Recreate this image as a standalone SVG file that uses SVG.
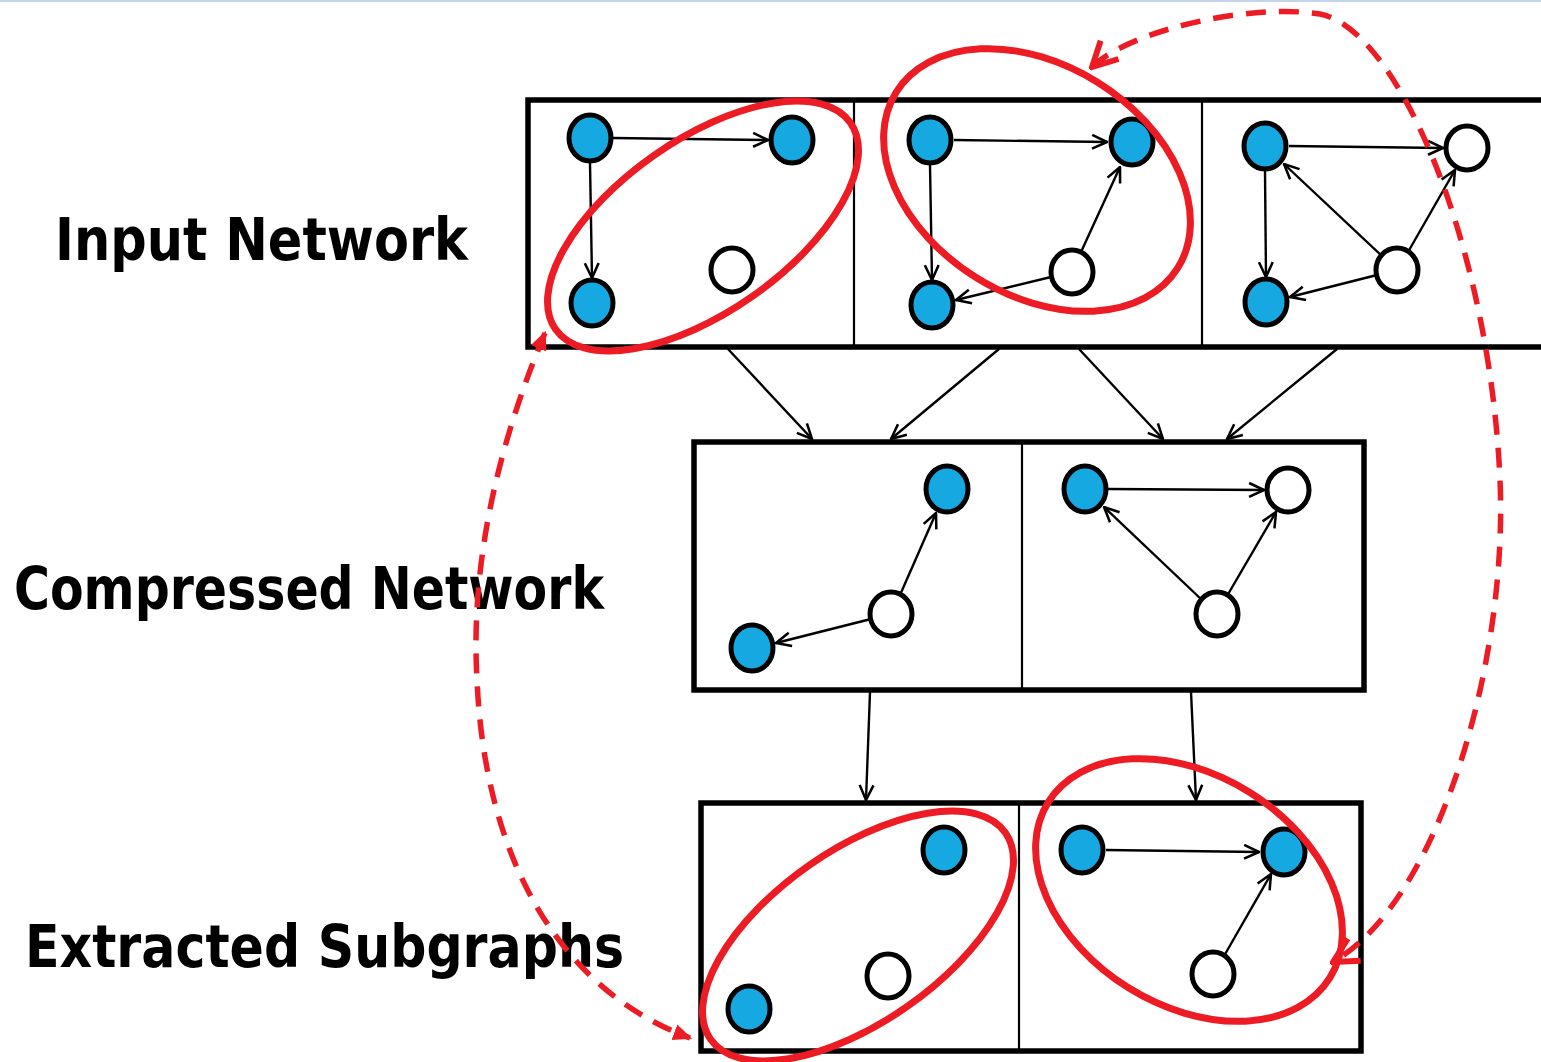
<svg xmlns="http://www.w3.org/2000/svg" width="1541" height="1062" viewBox="0 0 1541 1062">
<style>
.box{fill:none;stroke:#000;stroke-width:5.5}
.div{stroke:#000;stroke-width:2.2}
.edge{fill:none;stroke:#000;stroke-width:2.4}
.blue{fill:#16A9E1;stroke:#000;stroke-width:5}
.white{fill:#fff;stroke:#000;stroke-width:5}
.hl{fill:none;stroke:#ED1C24;stroke-width:7}
.dash{fill:none;stroke:#ED1C24;stroke-width:5.5;stroke-dasharray:20 13}
.lbl{font-family:"Comic Sans MS","DejaVu Sans",sans-serif;font-weight:bold;font-size:58px;fill:#000}
</style>
<defs>
<marker id="ah" viewBox="0 0 16 16" refX="15" refY="8" markerWidth="17" markerHeight="17" markerUnits="userSpaceOnUse" orient="auto">
<path d="M1,1.5 L15,8 L1,14.5" fill="none" stroke="#000" stroke-width="2.4"/>
</marker>
<marker id="rf" viewBox="0 0 16 16" refX="14" refY="8" markerWidth="19" markerHeight="19" markerUnits="userSpaceOnUse" orient="auto-start-reverse">
<path d="M0,1 L16,8 L0,15 Z" fill="#ED1C24"/>
</marker>
<marker id="ro" viewBox="0 0 30 30" refX="27" refY="15" markerWidth="32" markerHeight="32" markerUnits="userSpaceOnUse" orient="auto-start-reverse">
<path d="M4,3 L27,15 L4,27" fill="none" stroke="#ED1C24" stroke-width="5.5"/>
</marker>
</defs>
<rect x="0" y="0" width="1541" height="2" fill="#C5D3EC"/>

<g id="labels">
<text class="lbl" x="55" y="260" textLength="413" lengthAdjust="spacingAndGlyphs">Input Network</text>
<text class="lbl" x="14" y="609" textLength="590" lengthAdjust="spacingAndGlyphs">Compressed Network</text>
<text class="lbl" x="25" y="967" textLength="599" lengthAdjust="spacingAndGlyphs">Extracted Subgraphs</text>
</g>

<g id="box-input">
<rect class="box" x="528" y="100" width="1030" height="247"/>
<line class="div" x1="854" y1="100" x2="854" y2="347"/>
<line class="div" x1="1202" y1="100" x2="1202" y2="347"/>
</g>
<g id="box-compressed">
<rect class="box" x="694" y="442" width="670" height="248"/>
<line class="div" x1="1022" y1="442" x2="1022" y2="690"/>
</g>
<g id="box-extracted">
<rect class="box" x="701" y="803" width="660" height="248"/>
<line class="div" x1="1019" y1="803" x2="1019" y2="1051"/>
</g>

<g id="connectors" class="edge" marker-end="url(#ah)">
<path d="M613,138 L768,140"/>
<path d="M590,163 L592,278"/>
<path d="M954,140 L1107,142"/>
<path d="M930,165 L932,280"/>
<path d="M1081,252 L1120,167"/>
<path d="M1051,277 L956,300"/>
<path d="M1289,146 L1443,148"/>
<path d="M1265,171 L1266,277"/>
<path d="M1382,256 L1284,164"/>
<path d="M1408,252 L1455,170"/>
<path d="M1377,275 L1290,297"/>
<path d="M900,595 L936,513"/>
<path d="M871,619 L776,643"/>
<path d="M1108,489 L1264,490"/>
<path d="M1202,600 L1104,507"/>
<path d="M1227,596 L1276,512"/>
<path d="M1106,850 L1259,852"/>
<path d="M1224,956 L1271,874"/>
<path d="M728,349 L812,439"/>
<path d="M999,349 L891,439"/>
<path d="M1079,349 L1163,439"/>
<path d="M1337,349 L1227,439"/>
<path d="M870,692 L866,800"/>
<path d="M1191,692 L1196,800"/>
</g>

<g id="n-in1-a"><ellipse class="blue" cx="590" cy="138" rx="21" ry="23"/></g>
<g id="n-in1-b"><ellipse class="blue" cx="792" cy="140" rx="21" ry="23"/></g>
<g id="n-in1-c"><ellipse class="blue" cx="592" cy="303" rx="21" ry="23"/></g>
<g id="n-in1-d"><ellipse class="white" cx="732" cy="270" rx="21" ry="22"/></g>
<g id="n-in2-a"><ellipse class="blue" cx="930" cy="140" rx="21" ry="23"/></g>
<g id="n-in2-b"><ellipse class="blue" cx="1132" cy="142" rx="21" ry="23"/></g>
<g id="n-in2-c"><ellipse class="blue" cx="932" cy="305" rx="21" ry="23"/></g>
<g id="n-in2-d"><ellipse class="white" cx="1072" cy="272" rx="21" ry="22"/></g>
<g id="n-in3-a"><ellipse class="blue" cx="1265" cy="146" rx="21" ry="23"/></g>
<g id="n-in3-b"><ellipse class="white" cx="1467" cy="148" rx="21" ry="22"/></g>
<g id="n-in3-c"><ellipse class="blue" cx="1266" cy="302" rx="21" ry="23"/></g>
<g id="n-in3-d"><ellipse class="white" cx="1397" cy="270" rx="21" ry="22"/></g>
<g id="n-cm1-a"><ellipse class="blue" cx="947" cy="489" rx="21" ry="23"/></g>
<g id="n-cm1-b"><ellipse class="blue" cx="752" cy="648" rx="21" ry="23"/></g>
<g id="n-cm1-c"><ellipse class="white" cx="891" cy="614" rx="21" ry="22"/></g>
<g id="n-cm2-a"><ellipse class="blue" cx="1085" cy="489" rx="21" ry="23"/></g>
<g id="n-cm2-b"><ellipse class="white" cx="1288" cy="490" rx="21" ry="22"/></g>
<g id="n-cm2-c"><ellipse class="white" cx="1217" cy="614" rx="21" ry="22"/></g>
<g id="n-ex1-a"><ellipse class="blue" cx="944" cy="850" rx="21" ry="23"/></g>
<g id="n-ex1-b"><ellipse class="blue" cx="749" cy="1009" rx="21" ry="23"/></g>
<g id="n-ex1-c"><ellipse class="white" cx="888" cy="976" rx="21" ry="22"/></g>
<g id="n-ex2-a"><ellipse class="blue" cx="1082" cy="850" rx="21" ry="23"/></g>
<g id="n-ex2-b"><ellipse class="blue" cx="1284" cy="852" rx="21" ry="23"/></g>
<g id="n-ex2-c"><ellipse class="white" cx="1213" cy="974" rx="21" ry="22"/></g>

<g id="highlights">
<ellipse class="hl" cx="703" cy="226" rx="180" ry="86" transform="rotate(-35 703 226)"/>
<ellipse class="hl" cx="1037" cy="180" rx="166" ry="115" transform="rotate(32 1037 180)"/>
<ellipse class="hl" cx="858" cy="936" rx="180" ry="86" transform="rotate(-35 858 936)"/>
<ellipse class="hl" cx="1189" cy="890" rx="166" ry="115" transform="rotate(32 1189 890)"/>
</g>

<g id="dashed-connectors">
<path class="dash" d="M545,333 C500,440 470,560 477,680 C485,860 560,990 690,1038" marker-start="url(#rf)" marker-end="url(#rf)"/>
<path class="dash" d="M1092,67 C1130,30 1250,3 1320,14 C1400,30 1490,250 1500,480 C1508,660 1440,900 1333,962" marker-start="url(#ro)" marker-end="url(#ro)"/>
</g>
</svg>
